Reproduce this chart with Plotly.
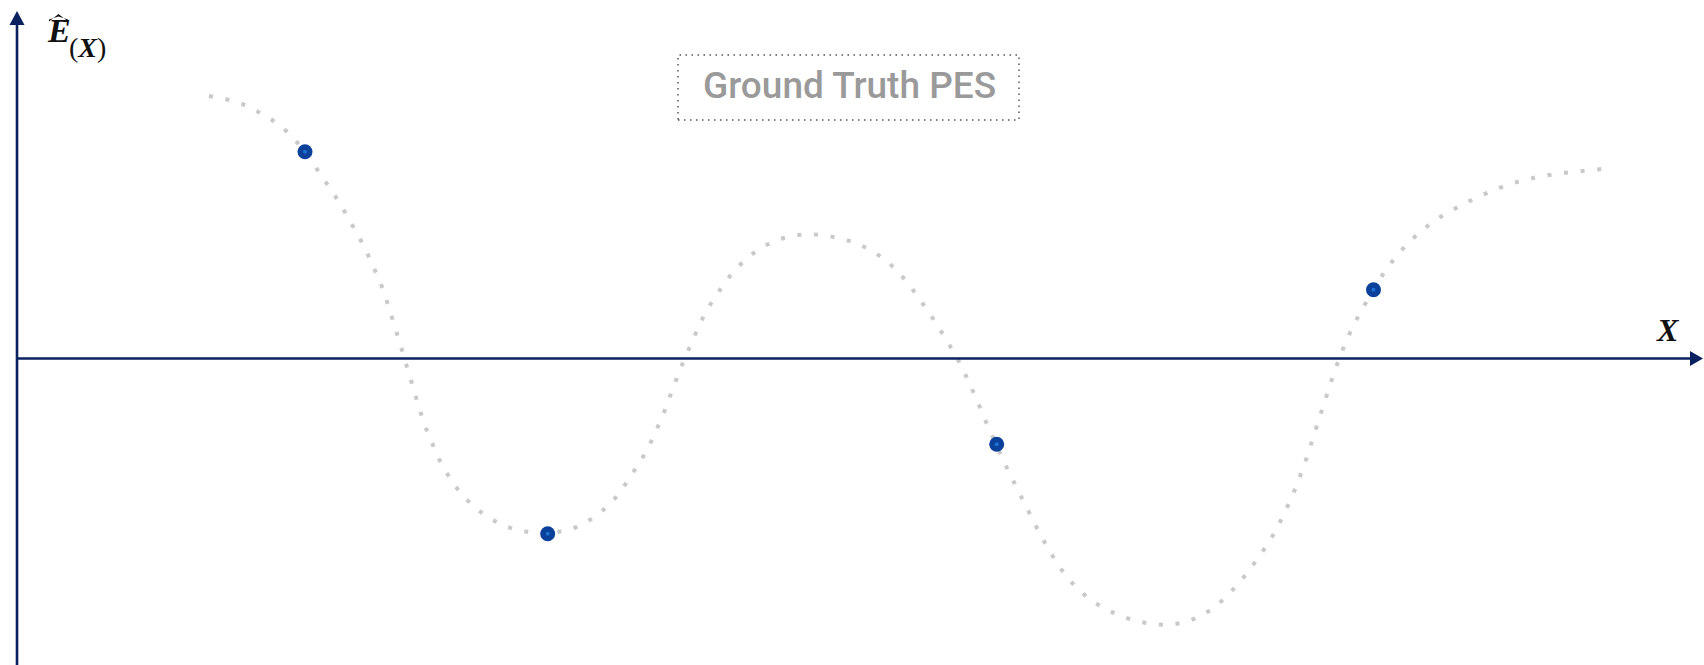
import plotly.graph_objects as go

# Ground-truth potential energy surface, sampled along the coordinate X
pes_x = [1.92, 2.087, 2.247, 2.397, 2.54, 2.673, 2.79, 2.88, 2.99, 3.087, 3.177, 3.263,
         3.347, 3.427, 3.503, 3.573, 3.637, 3.693, 3.743, 3.797, 3.84, 3.887, 3.933, 3.983,
         4.03, 4.083, 4.143, 4.21, 4.29, 4.38, 4.487, 4.61, 4.743, 4.893, 5.053, 5.307,
         5.547, 5.697, 5.833, 5.957, 6.057, 6.153, 6.24, 6.323, 6.393, 6.46, 6.517, 6.573,
         6.633, 6.70, 6.763, 6.833, 6.91, 6.997, 7.093, 7.20, 7.32, 7.457, 7.607, 7.77,
         7.933, 8.10, 8.263, 8.42, 8.567, 8.703, 8.823, 8.93, 9.03, 9.123, 9.213, 9.30,
         9.387, 9.463, 9.533, 9.60, 9.663, 9.73, 9.797, 9.867, 9.94, 10.014, 10.087, 10.161,
         10.238, 10.32, 10.406, 10.503, 10.618, 10.744, 10.887, 11.038, 11.197, 11.361,
         11.524, 11.687, 11.842, 11.981, 12.103, 12.218, 12.32, 12.418, 12.512, 12.597,
         12.671, 12.74, 12.806, 12.863, 12.916, 12.965, 13.014, 13.067, 13.116, 13.169,
         13.226, 13.287, 13.357, 13.434, 13.565, 13.691, 13.793, 13.903, 14.026, 14.157,
         14.295, 14.442, 14.589, 14.744, 14.899, 15.059, 15.218, 15.385, 15.548, 15.712,
         15.879]
pes_e = [2.625, 2.595, 2.548, 2.475, 2.392, 2.295, 2.175, 2.068, 1.908, 1.772, 1.632, 1.492,
         1.348, 1.202, 1.052, 0.902, 0.752, 0.592, 0.435, 0.275, 0.118, -0.042, -0.205, -0.362,
         -0.522, -0.682, -0.835, -0.988, -1.135, -1.275, -1.402, -1.515, -1.608, -1.682, -1.728, -1.752,
         -1.708, -1.635, -1.542, -1.428, -1.298, -1.158, -1.018, -0.872, -0.722, -0.568, -0.412, -0.255,
         -0.102, 0.052, 0.205, 0.358, 0.505, 0.645, 0.782, 0.908, 1.022, 1.118, 1.188, 1.232,
         1.245, 1.228, 1.195, 1.142, 1.068, 0.972, 0.855, 0.728, 0.595, 0.455, 0.318, 0.175,
         0.032, -0.115, -0.265, -0.418, -0.572, -0.725, -0.858, -1.028, -1.178, -1.328, -1.478, -1.625,
         -1.772, -1.915, -2.058, -2.192, -2.315, -2.422, -2.508, -2.575, -2.628, -2.658,
         -2.665, -2.638, -2.575, -2.485, -2.372, -2.248, -2.122, -1.985, -1.848, -1.705,
         -1.558, -1.405, -1.248, -1.095, -0.938, -0.778, -0.618, -0.458, -0.302, -0.145,
         0.008, 0.165, 0.315, 0.462, 0.688, 0.892, 1.022, 1.148, 1.262, 1.365,
         1.455, 1.535, 1.608, 1.672, 1.735, 1.782, 1.818, 1.845, 1.868, 1.882,
         1.898]

# Sampled configurations lying on the surface
sample_x = [2.88, 5.307, 9.797, 13.565]
sample_e = [2.068, -1.752, -0.858, 0.688]

legend_label = "Ground Truth PES"
x_label = "X"
e_label = "E"

X_RANGE = [-0.17, 16.87]
Y_RANGE = [-3.065, 3.585]
AXIS_COLOR = "#0a2160"
W, H = 1704, 665

fig = go.Figure()

fig.add_trace(go.Scatter(
    x=pes_x, y=pes_e, mode="lines", name=legend_label,
    line=dict(color="#c9c9c9", width=4, dash="4px,12.7px"),
    hoverinfo="skip",
))
fig.add_trace(go.Scatter(
    x=sample_x, y=sample_e, mode="markers",
    marker=dict(size=15, color="#0b419b", line=dict(width=0)),
    showlegend=False,
))
fig.add_trace(go.Scatter(
    x=sample_x, y=sample_e, mode="markers",
    marker=dict(size=4, color="#1c70cf", line=dict(width=0)),
    showlegend=False, hoverinfo="skip",
))

# Coordinate axes drawn through the origin
fig.add_shape(type="line", x0=0, x1=0, y0=Y_RANGE[0], y1=3.40,
              xref="x", yref="y", line=dict(color=AXIS_COLOR, width=2.6))
fig.add_shape(type="line", x0=0, x1=16.80, y0=0, y1=0,
              xref="x", yref="y", line=dict(color=AXIS_COLOR, width=2.6))
# Arrowheads
fig.add_shape(type="path", xref="x", yref="y", xsizemode="pixel", ysizemode="pixel",
              xanchor=16.86, yanchor=0, path="M 0,0 L -13,7.5 L -13,-7.5 Z",
              fillcolor=AXIS_COLOR, line=dict(width=0))
fig.add_shape(type="path", xref="x", yref="y", xsizemode="pixel", ysizemode="pixel",
              xanchor=0, yanchor=3.475, path="M 0,0 L -7.5,-14 L 7.5,-14 Z",
              fillcolor=AXIS_COLOR, line=dict(width=0))

# Wide hat over the energy symbol
fig.add_shape(type="path", xref="x", yref="y", xsizemode="pixel", ysizemode="pixel",
              xanchor=0.415, yanchor=3.445,
              path="M -9.5,-7.5 L 0,0 L 9.5,-7.5 L 9.5,-5.6 L 0,-2.5 L -9.5,-5.6 Z",
              fillcolor="#111111", line=dict(width=0))

# Dotted frame around the curve label
fig.add_shape(type="rect", xref="paper", yref="paper",
              x0=678 / W, x1=1019 / W, y0=1 - 120 / H, y1=1 - 55 / H,
              line=dict(color="#555555", width=1.5, dash="1.5px,4.5px"))

fig.add_annotation(
    text=legend_label, xref="paper", yref="paper", x=849 / W, y=1 - 85 / H,
    xanchor="center", yanchor="middle", showarrow=False,
    font=dict(family="Roboto", size=37, color="#9a9a9a", weight=500),
)
fig.add_annotation(
    text="<b><i>" + x_label + "</i></b>", xref="paper", yref="paper",
    x=1667 / W, y=1 - 330 / H, xanchor="center", yanchor="middle", showarrow=False,
    font=dict(family="Liberation Serif", size=32, color="#111111"),
)
# Energy axis label: symbol and its (X) argument
fig.add_annotation(
    text="<b><i>" + e_label + "</i></b>",
    xref="paper", yref="paper", x=45 / W, y=1 - 10 / H,
    xanchor="left", yanchor="top", showarrow=False,
    font=dict(family="Liberation Serif", size=34, color="#111111"),
)
fig.add_annotation(
    text="(<b><i>" + x_label + "</i></b>)",
    xref="paper", yref="paper", x=67 / W, y=1 - 30 / H,
    xanchor="left", yanchor="top", showarrow=False,
    font=dict(family="Liberation Serif", size=28, color="#111111"),
)

fig.update_layout(
    width=W, height=H,
    margin=dict(l=0, r=0, t=0, b=0),
    paper_bgcolor="white", plot_bgcolor="white",
    showlegend=False,
    xaxis=dict(range=X_RANGE, visible=False, fixedrange=True),
    yaxis=dict(range=Y_RANGE, visible=False, fixedrange=True),
)

fig.write_html("out.html")
